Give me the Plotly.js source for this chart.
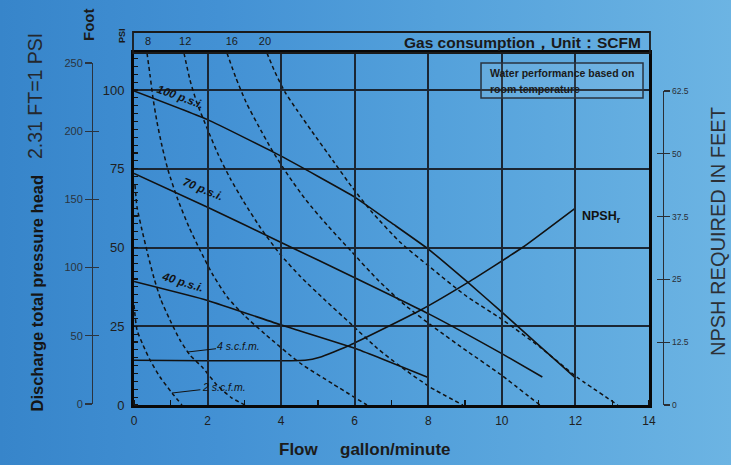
<!DOCTYPE html>
<html><head><meta charset="utf-8">
<script src="https://cdn.plot.ly/plotly-3.0.1.min.js"></script>
<style>
html,body{margin:0;padding:0;}
body{width:731px;height:465px;overflow:hidden;background:linear-gradient(90deg,#3785ca 0%,#4391d4 30%,#54a1db 60%,#6cb4e3 100%);}
#chart{width:731px;height:465px;}
</style></head><body><div id="chart"></div>
<script>
// ---- axis ticks ----
const flowTicks=[0,2,4,6,8,10,12,14];
const headTicks=[0,25,50,75,100];
const psiTicks=[0,50,100,150,200,250];
const npshTicks=[0,12.5,25,37.5,50,62.5];
const npshTickText=['0','12.5','25','37.5','50','62.5'];
const gasTickPos=[0.38,1.39,2.66,3.56];
const gasTickText=['8','12','16','20'];

// ---- pressure curves (head in feet vs flow gpm) ----
const p100X=[0,2,4,6,7,8,9,10,11,12];
const p100Y=[99.7,90.6,79,66,57.8,49.5,39.7,29.5,19,8.6];
const p70X=[0,2,4,6,8,10,11.1];
const p70Y=[73.5,62.8,51.6,40.4,29,16.3,8.9];
const p40X=[0,2,4,6,8];
const p40Y=[39.2,33.2,25.4,18,8.7];

// ---- air consumption curves (SCFM) ----
const s2X=[0,0.082,0.245,0.435,0.707,1.033,1.304];
const s2Y=[31.75,23.81,19.05,14.29,8.89,3.81,0];
const s4X=[0.027,0.082,0.217,0.380,0.543,0.734,0.978,1.250,1.522,1.875,2.255,2.663,3.016];
const s4Y=[69.84,62.86,55.56,47.62,40.32,33.33,26.98,20.63,15.87,11.75,6.35,2.22,0];
const s8X=[0.353,0.435,0.516,0.625,0.761,0.924,1.196,1.495,1.793,2.147,2.554,3.016,3.560,4.511,5.408,6.332];
const s8Y=[111.75,104.76,97.46,89.84,82.22,74.60,65.08,56.51,49.21,41.27,33.97,28.25,22.54,13.33,6.67,0];
const s12X=[1.359,1.522,1.712,1.984,2.283,2.609,2.989,3.424,3.967,4.538,5.190,5.870,6.603,7.228,8.043,8.940];
const s12Y=[111.75,103.17,95.87,87.94,79.68,72.06,64.44,56.51,47.94,40.63,33.33,26.03,18.10,12.38,5.71,0];
const s16X=[2.527,2.772,3.043,3.370,3.750,4.185,4.674,5.272,5.924,6.630,7.364,8.179,9.049,9.946,11.033];
const s16Y=[111.75,103.81,96.19,88.89,80.95,73.02,65.08,56.83,48.57,39.68,31.75,24.44,17.14,9.84,0];
const s20X=[3.614,3.832,4.103,4.429,4.810,5.435,5.924,6.467,7.228,8.043,8.995,10.027,11.033,12.038,13.152];
const s20Y=[111.75,105.71,99.37,93.65,87.30,77.14,69.21,61.27,51.75,43.81,34.92,26.98,18.41,8.89,0];

// ---- NPSH required (feet, right axis) ----
const npshX=[0,4.65,5.05,5.87,7.77,9.08,10.57,11.98];
const npshY=[8.9,8.9,9.5,11.9,18.8,24.4,31.4,39.1];

const INK='#121212';
const FONT='Liberation Sans, Arial, Helvetica, sans-serif';

function dashed(x,y){return {x:x,y:y,type:'scatter',mode:'lines',hoverinfo:'skip',showlegend:false,
  line:{color:INK,width:1.5,dash:'4px,3px',shape:'spline',smoothing:0.6}};}
function solid(x,y,ax){return {x:x,y:y,type:'scatter',mode:'lines',hoverinfo:'skip',showlegend:false,
  yaxis:ax||'y',line:{color:INK,width:1.6,shape:'spline',smoothing:0.4}};}
function axisHolder(xa,ya){return {x:[null],y:[null],xaxis:xa,yaxis:ya,type:'scatter',mode:'lines',hoverinfo:'skip',showlegend:false};}

const data=[
  dashed(s2X,s2Y),dashed(s4X,s4Y),dashed(s8X,s8Y),dashed(s12X,s12Y),dashed(s16X,s16Y),dashed(s20X,s20Y),
  solid(p100X,p100Y),solid(p70X,p70Y),solid(p40X,p40Y),
  solid(npshX,npshY,'y2'),
  axisHolder('x2','y'),axisHolder('x','y3'),axisHolder('x','y4'),axisHolder('x','y5')
];

function pa(px,py,text,size,color,angle){
  return {xref:'paper',yref:'paper',x:(px-92)/571,y:(405-py)/352,xanchor:'center',yanchor:'middle',
    showarrow:false,text:text,textangle:angle||0,font:{size:size,color:color}};
}

const xd=[0.07356,0.97548];
const GRID='#1b2633';
const layout={
  width:731,height:465,
  margin:{l:92,r:68,t:53,b:60,pad:0},
  paper_bgcolor:'rgba(0,0,0,0)',plot_bgcolor:'rgba(0,0,0,0)',
  showlegend:false,
  font:{family:FONT,color:INK},
  xaxis:{domain:xd,range:[0,14],tickvals:flowTicks,ticks:'',showgrid:true,gridcolor:GRID,gridwidth:2,
    showline:true,linecolor:'#080808',linewidth:3,mirror:true,zeroline:false,ticklabelstandoff:3,
    tickfont:{size:12,color:'#202020'},
    minor:{ticks:'inside',ticklen:5,dtick:1,tickcolor:INK,tickwidth:1.2,showgrid:false}},
  xaxis2:{overlaying:'x',side:'top',anchor:'y',range:[0,14],tickvals:gasTickPos,ticktext:gasTickText,
    ticks:'outside',ticklen:3,tickcolor:'rgba(0,0,0,0)',
    showgrid:false,showline:false,zeroline:false,tickfont:{size:11,color:'#1a1a1a'}},
  yaxis:{domain:[0,1],range:[0,111.75],tickvals:headTicks,ticks:'',showgrid:true,gridcolor:GRID,gridwidth:2,
    showline:true,linecolor:'#080808',linewidth:3,mirror:true,zeroline:false,ticklabelstandoff:4,
    tickfont:{size:13,color:'#202020'},
    minor:{ticks:'inside',ticklen:4,dtick:2.5,tickcolor:INK,tickwidth:1.2,showgrid:false}},
  yaxis2:{anchor:'free',position:1,side:'right',domain:[0,0.892],range:[0,62.5],tickvals:npshTicks,ticktext:npshTickText,
    ticks:'outside',ticklen:6,tickwidth:1.2,tickcolor:'#2a2f36',showline:true,linecolor:'#2a2f36',linewidth:1.3,
    showgrid:false,zeroline:false,tickfont:{size:8.5,color:'#2a2f36'}},
  yaxis4:{anchor:'free',position:1,side:'right',domain:[0,0.892],range:[0,62.5],tickvals:npshTicks,
    ticks:'inside',ticklen:6,tickwidth:1.2,tickcolor:'#2a2f36',showline:false,showticklabels:false,showgrid:false,zeroline:false},
  yaxis3:{anchor:'free',position:0,side:'left',domain:[0.00284,0.9716],range:[0,250],tickvals:psiTicks,
    ticks:'outside',ticklen:7,tickwidth:1.2,tickcolor:'#2a3440',showline:true,linecolor:'#2a3440',linewidth:1.3,
    showgrid:false,zeroline:false,tickfont:{size:11,color:'#2a3440'}},
  yaxis5:{anchor:'free',position:0,side:'left',domain:[0.00284,0.9716],range:[0,250],tickvals:psiTicks,
    ticks:'inside',ticklen:6,tickwidth:1.2,tickcolor:'#2a3440',showline:false,showticklabels:false,showgrid:false,zeroline:false},
  shapes:[
    {type:'rect',xref:'paper',yref:'paper',x0:0.0718,x1:0.9772,y0:1.0,y1:1.0597,line:{color:'#1a1a1a',width:1.8},fillcolor:'rgba(0,0,0,0)'},
    {type:'rect',xref:'paper',yref:'paper',x0:0.6813,x1:0.965,y0:0.8722,y1:0.9716,line:{color:'#283340',width:1.5},fillcolor:'rgba(255,255,255,0.08)'}
  ],
  annotations:[
    Object.assign(pa(643,42,'<b>Gas consumption，Unit：SCFM</b>',15.5,'#1a1a1a'),{xanchor:'right',x:(643-92)/571}),
    Object.assign(pa(488,73,'<b>Water performance based on</b>',10.5,'#1a1a1a'),{xanchor:'left'}),
    Object.assign(pa(488,89,'<b>room temperature</b>',10.5,'#1a1a1a'),{xanchor:'left'}),
    pa(122,36,'<b>PSI</b>',9,'#1a1a1a',-90),
    pa(89,25,'<b>Foot</b>',15,'#1a1a1a',-90),
    pa(36,293.5,'<b>Discharge total pressure head</b>',16.5,'#151515',-90),
    pa(35,96,'2.31 FT=1 PSI',19.5,'#24282e',-90),
    pa(718,232,'NPSH REQUIRED IN FEET',20,'#2c3036',-90),
    pa(298,449,'<b>Flow</b>',17,'#1c1c1c'),
    pa(395.5,449,'<b>gallon/minute</b>',17,'#1c1c1c'),
    {xref:'x',yref:'y',x:1.277,y:97.8,textangle:20,showarrow:false,
     text:'<b><i>100 p.s.i.</i></b>',font:{size:11.5,color:INK}},
    {xref:'x',yref:'y',x:1.875,y:68.6,textangle:22,showarrow:false,
     text:'<b><i>70 p.s.i.</i></b>',font:{size:11.5,color:INK}},
    {xref:'x',yref:'y',x:1.33,y:39.0,textangle:17,showarrow:false,
     text:'<b><i>40 p.s.i.</i></b>',font:{size:11.5,color:INK}},
    {xref:'x',yref:'y',x:12.72,y:59.7,showarrow:false,
     text:'<b>NPSH<sub>r</sub></b>',font:{size:12.5,color:INK}},
    {xref:'x',yref:'y',x:1.44,y:16.8,ax:52,ay:-6,showarrow:true,arrowhead:0,arrowwidth:1,arrowcolor:INK,standoff:0,
     text:'<i>4 s.c.f.m.</i>',font:{size:10.5,color:INK}},
    {xref:'x',yref:'y',x:1.03,y:3.8,ax:52,ay:-6,showarrow:true,arrowhead:0,arrowwidth:1,arrowcolor:INK,standoff:0,
     text:'<i>2 s.c.f.m.</i>',font:{size:10.5,color:INK}}
  ]
};
Plotly.newPlot('chart',data,layout,{staticPlot:true,displayModeBar:false});
</script></body></html>
